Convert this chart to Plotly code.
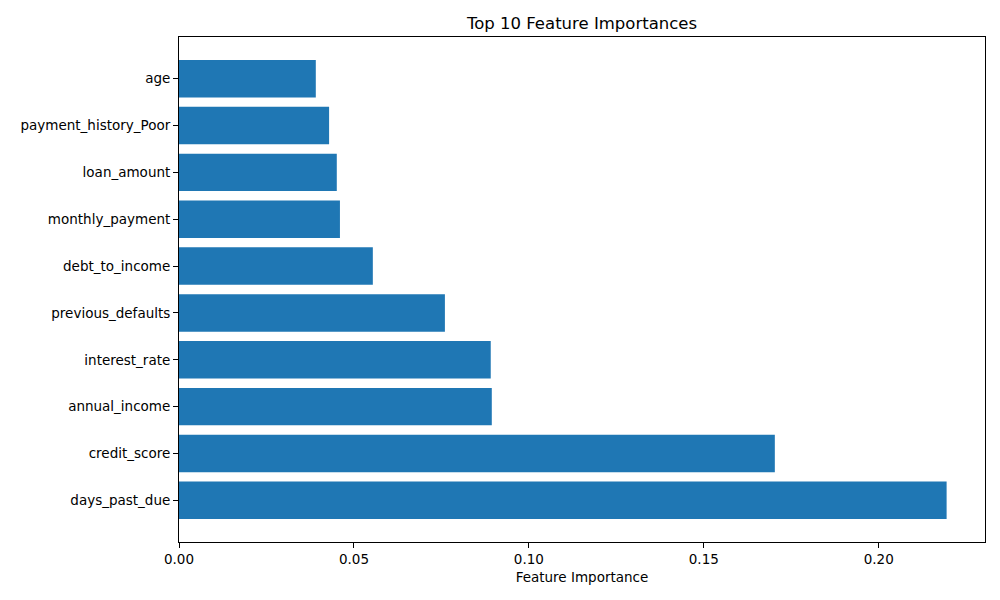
import plotly.graph_objects as go

# feature importances (bottom to top)
features = [
    "days_past_due",
    "credit_score",
    "annual_income",
    "interest_rate",
    "previous_defaults",
    "debt_to_income",
    "monthly_payment",
    "loan_amount",
    "payment_history_Poor",
    "age",
]
importances = [0.2194, 0.1703, 0.0894, 0.0891, 0.0760, 0.0554, 0.0460, 0.0451, 0.0429, 0.0391]

x_ticks = [0.0, 0.05, 0.10, 0.15, 0.20]

font = "DejaVu Sans"

fig = go.Figure()
fig.add_trace(go.Bar(
    x=importances,
    y=features,
    orientation="h",
    marker=dict(color="#1f77b4", line=dict(width=0)),
))

# the page body adds an 8px offset, so margins are shifted to compensate
fig.update_layout(
    width=1000,
    height=600,
    margin=dict(l=171, r=23, t=29, b=66),
    paper_bgcolor="white",
    plot_bgcolor="white",
    bargap=0.2,
    showlegend=False,
    font=dict(family=font, size=13.5, color="black"),
    title=dict(
        text="Top 10 Feature Importances",
        x=0.5,
        xref="paper",
        xanchor="center",
        y=1 - 15 / 600,
        yref="container",
        yanchor="middle",
        font=dict(family=font, size=16.5, color="black"),
    ),
)

fig.update_xaxes(
    range=[0, max(importances) * 1.05],
    tickvals=x_ticks,
    tickformat=".2f",
    showgrid=False,
    zeroline=False,
    showline=True,
    linecolor="black",
    linewidth=1,
    mirror=True,
    ticks="outside",
    ticklen=5,
    tickcolor="black",
    title=dict(text="Feature Importance", standoff=6, font=dict(size=13.5)),
)
fig.update_yaxes(
    type="category",
    categoryorder="array",
    categoryarray=features,
    range=[-0.89, 9.89],
    showgrid=False,
    zeroline=False,
    showline=True,
    linecolor="black",
    linewidth=1,
    mirror=True,
    ticks="outside",
    ticklen=5,
    tickcolor="black",
)

fig.write_html("out.html")
